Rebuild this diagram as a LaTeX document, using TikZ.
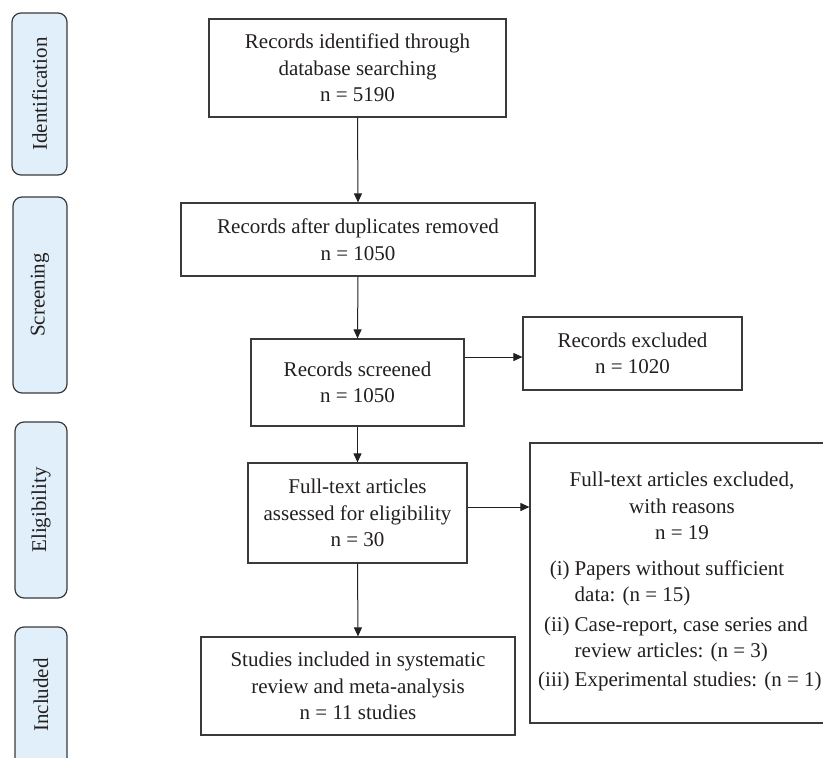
\documentclass[tikz,border=0pt]{standalone}
\usepackage{fontspec}
\setmainfont{Liberation Serif}
\usetikzlibrary{arrows.meta,calc}
\definecolor{txt}{HTML}{231F20}
\definecolor{edge}{HTML}{3A3A3A}
\definecolor{phasefill}{HTML}{E0EFFA}
\begin{document}
\begin{tikzpicture}[x=1pt,y=-1pt,
  font=\fontsize{21}{26.5}\selectfont, text=txt,
  flowbox/.style={draw=edge, line width=1.2pt, align=center, inner sep=0pt},
  phase/.style={draw=edge, line width=1.2pt, fill=phasefill, rounded corners=9pt, inner sep=0pt},
  phaselabel/.style={rotate=90, inner sep=0pt},
  arr/.style={draw=txt, line width=1pt, -{Triangle[length=9pt,width=8pt]}}]
\useasboundingbox (0,0) rectangle (823,758);

% phase labels
\node[phase, minimum width=55pt, minimum height=162pt] (pid) at (39.5,94) {};
\node[phaselabel] (pidt) at (pid.center) {Identification};
\node[phase, minimum width=54pt, minimum height=196pt] (psc) at (40,295) {};
\node[phaselabel] (psct) at (psc.center) {Screening};
\node[phase, minimum width=52pt, minimum height=176pt] (pel) at (41,510) {};
\node[phaselabel] (pelt) at (pel.center) {Eligibility};
\node[phase, minimum width=52pt, minimum height=140pt] (pin) at (41,697) {};
\node[phaselabel] (pint) at (41,695) {Included};

% main flow
\node[flowbox, minimum width=297pt, minimum height=98pt] (b1) at (357.5,68)
  {Records identified through\\database searching\\n = 5190};
\node[flowbox, minimum width=354pt, minimum height=73pt] (b2) at (358,239.5)
  {Records after duplicates removed\\n = 1050};
\node[flowbox, minimum width=213pt, minimum height=87pt] (b3) at (357.5,382.5)
  {Records screened\\n = 1050};
\node[flowbox, minimum width=219pt, minimum height=73pt] (rex) at (632.5,353.5)
  {Records excluded\\n = 1020};
\node[flowbox, minimum width=219pt, minimum height=100pt] (b4) at (357.5,513)
  {Full-text articles\\assessed for eligibility\\n = 30};
\node[flowbox, minimum width=314pt, minimum height=98pt] (b5) at (358,686)
  {Studies included in systematic\\review and meta-analysis\\n = 11 studies};

% full-text excluded box
\node[flowbox, minimum width=304pt, minimum height=280pt] (ftex) at (682,583) {};
\node[align=center, inner sep=0pt] (fthead) at (682,506)
  {Full-text articles excluded,\\with reasons\\n = 19};
\node[anchor=base west, inner sep=0pt] (ftlist) at (538,575)
  {\def\arraystretch{1}\begin{tabular}[t]{@{}r@{\hspace{5pt}}l@{}}
   (i) & Papers without sufficient\\
       & data: (n = 15)\\[3pt]
   (ii) & Case-report, case series and\\
        & review articles: (n = 3)\\[2pt]
   (iii) & Experimental studies: (n = 1)
   \end{tabular}};

% connectors
\coordinate (rexin) at ($(rex.west)+(0,3.5)$);
\coordinate (ftin) at (ftex.west |- 0,507);
\draw[arr] (b1.south) -- (b2.north);
\draw[arr] (b2.south) -- (b3.north);
\draw[arr] (b3.east |- rexin) -- (rexin);
\draw[arr] (b3.south) -- (b4.north);
\draw[arr] (b4.east |- ftin) -- (ftin);
\draw[arr] (b4.south) -- (b5.north);
\end{tikzpicture}
\end{document}
